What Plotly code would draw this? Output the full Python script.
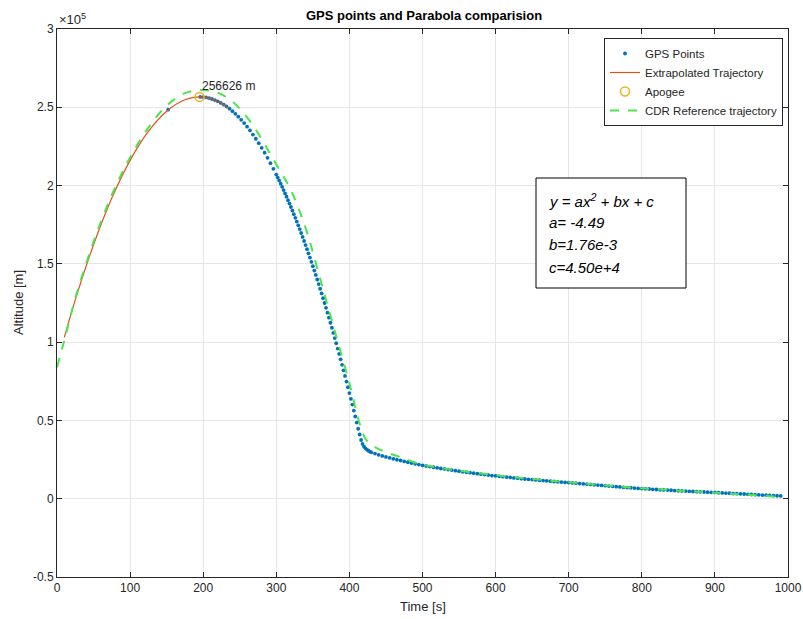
import plotly.graph_objects as go

# ---------------- data ----------------
gps_t = [152,
         196, 200, 204, 208, 212, 216, 220, 224, 228, 232, 236, 240, 244, 248, 252, 256, 260,
         264, 268, 272, 276, 280, 284, 288, 292, 296, 300,
         302, 304, 306, 308, 310, 312, 314, 316, 318, 320, 322, 324, 326, 328, 330, 332, 334,
         336, 338, 340, 342, 344, 346, 348, 350, 352, 354, 356, 358, 360, 362, 364, 366, 368,
         370, 372, 374, 376, 378, 380, 382, 384, 386, 388, 390, 392, 394, 396, 398, 400, 402,
         404, 406, 408, 410, 412, 414, 416, 418, 420, 422, 424, 426, 428,
         430, 435, 440, 445, 450, 455, 460, 465, 470, 475, 480, 485, 490, 495, 500, 505, 510,
         515, 520, 525, 530, 535, 540, 545, 550, 555, 560, 565, 570, 575, 580, 585, 590, 595,
         600, 605, 610, 615, 620, 625, 630, 635, 640, 645, 650, 655, 660, 665, 670, 675, 680,
         685, 690, 695, 700, 705, 710, 715, 720, 725, 730, 735, 740, 745, 750, 755, 760, 765,
         770, 775, 780, 785, 790, 795, 800, 805, 810, 815, 820, 825, 830, 835, 840, 845, 850,
         855, 860, 865, 870, 875, 880, 885, 890, 895, 900, 905, 910, 915, 920, 925, 930, 935,
         940, 945, 950, 955, 960, 965, 970, 975, 980, 985, 990]
gps_alt = [248500,
           256600, 256500, 256300, 255900, 255300, 254600, 253800, 252800, 251700, 250500,
           249100, 247500, 245800, 244000, 242000, 239900, 237600, 235200, 232600, 229900,
           227100, 224100, 221000, 217700, 214300, 210700, 207000,
           205100, 203200, 201200, 199200, 197100, 195000, 192900, 190700, 188500, 186300,
           184000, 181700, 179400, 177000, 174600, 172200, 169700, 167200, 164600, 162000,
           159400, 156700, 154000, 151300, 148500, 145700, 142900, 140000, 137100, 134100,
           131100, 128100, 125000, 121900, 118800, 115600, 112400, 109200, 105900, 102600,
           99300, 95900, 92500, 89000, 85500, 82000, 78400, 74800, 71200, 67500, 63800,
           60100, 56300, 52500, 48600, 44700, 41000, 37500, 35000, 33300, 32200, 31400,
           30700, 30100,
           29600, 28800, 28000, 27300, 26700, 26100, 25500, 24900, 24400, 23800, 23300,
           22800, 22300, 21800, 21300, 20900, 20500, 20100, 19700, 19300, 19000, 18600,
           18300, 17900, 17600, 17200, 16900, 16600, 16300, 16000, 15700, 15400, 15100,
           14800, 14600, 14300, 14100, 13800, 13600, 13300, 13100, 12800, 12600, 12400,
           12200, 12000, 11800, 11600, 11400, 11200, 11000, 10800, 10600, 10400, 10300,
           10100, 9900, 9700, 9500, 9300, 9100, 8900, 8700, 8500, 8300, 8100, 7900, 7700,
           7500, 7300, 7100, 7000, 6800, 6600, 6500, 6300, 6200, 6000, 5900, 5700, 5600,
           5500, 5400, 5200, 5100, 5000, 4900, 4700, 4600, 4500, 4400, 4300, 4200, 4100,
           4000, 3800, 3700, 3600, 3500, 3300, 3200, 3100, 3000, 2800, 2700, 2600, 2500,
           2300, 2200, 2100, 2000, 1900, 1800]

fit_t = [10, 25, 50, 75, 100, 125, 150, 175, 195, 215, 235]
fit_alt = [103000, 127000, 162200, 192000, 216100, 234600, 247500, 254800, 256626, 254800, 249400]

apogee_t = [195]
apogee_alt = [256626]

cdr_t = [0, 10, 25, 50, 75, 100, 125, 150, 175, 195, 215, 235, 255, 275, 291, 300, 320,
         340, 360, 380, 400, 414, 423, 435, 450, 470, 500, 600, 700, 800, 900, 990]
cdr_alt = [84000, 101000, 128000, 164000, 194000, 218000, 237000, 251000, 259000, 261000,
           260000, 255500, 246500, 233500, 220700, 213500, 197000, 173000, 140500, 107000,
           73800, 48000, 37600, 33000, 29800, 26500, 21800, 15000, 10500, 6700, 3800, 1200]

fit_lines = ["<i>y = ax<sup>2</sup> + bx + c</i>", "<i>a= -4.49</i>",
             "<i>b=1.76e-3</i>", "<i>c=4.50e+4</i>"]

y_ticks = [-50000, 0, 50000, 100000, 150000, 200000, 250000, 300000]
y_labels = ["-0.5", "0", "0.5", "1", "1.5", "2", "2.5", "3"]
x_ticks = [0, 100, 200, 300, 400, 500, 600, 700, 800, 900, 1000]

FONT = "Arial, Liberation Sans, sans-serif"
AX = "#262626"

W, H = 803, 619
ML, MT = 57, 29
PW = 788 - 57
MR = W - ML - PW
PH = 577 - 29
MB = H - MT - PH


def px(xs):
    """screen x pixel -> paper fraction"""
    return (xs - ML) / PW


def py(ys):
    """screen y pixel -> paper fraction"""
    return (H - MB - ys) / PH


fig = go.Figure()
fig.add_trace(go.Scatter(x=gps_t, y=gps_alt, mode="markers", name="GPS Points",
                         marker=dict(color="#0072BD", size=3.8, line=dict(width=0))))
fig.add_trace(go.Scatter(x=fit_t, y=fit_alt, mode="lines", name="Extrapolated Trajectory",
                         line=dict(color="#D95319", width=1.2, shape="spline")))
fig.add_trace(go.Scatter(x=apogee_t, y=apogee_alt, mode="markers", name="Apogee",
                         marker=dict(symbol="circle-open", color="#EDB120", size=9,
                                     line=dict(width=1.5, color="#EDB120"))))
fig.add_trace(go.Scatter(x=cdr_t, y=cdr_alt, mode="lines", name="CDR Reference trajectory",
                         line=dict(color="#4FE34F", width=2, dash="dash", shape="spline")))

fig.add_annotation(x=apogee_t[0], y=apogee_alt[0], xref="x", yref="y",
                   text=f"{apogee_alt[0]} m", showarrow=False, xanchor="left", yanchor="bottom",
                   xshift=0, yshift=2, font=dict(family=FONT, size=12, color=AX))

# equation text box
fig.add_shape(type="rect", xref="paper", yref="paper",
              x0=px(536), x1=px(686), y0=py(288), y1=py(178),
              line=dict(color="#000000", width=1), fillcolor="white", layer="above")
for i, line in enumerate(fit_lines):
    fig.add_annotation(xref="paper", yref="paper", x=px(547), y=py(200 + 22.5 * i),
                       xanchor="left", yanchor="middle", text=line, showarrow=False,
                       font=dict(family=FONT, size=15, color="#000000"))

fig.add_annotation(xref="paper", yref="paper", x=px(57), y=py(19), xanchor="left",
                   yanchor="middle", text="×10<sup>5</sup>", showarrow=False,
                   font=dict(family=FONT, size=13, color=AX))

# axis titles
fig.add_annotation(xref="paper", yref="paper", x=px(423), y=py(606), xanchor="center",
                   yanchor="middle", text="Time [s]", showarrow=False,
                   font=dict(family=FONT, size=13, color=AX))
fig.add_annotation(xref="paper", yref="paper", x=px(18), y=py(303), xanchor="center",
                   yanchor="middle", text="Altitude [m]", showarrow=False, textangle=-90,
                   font=dict(family=FONT, size=13, color=AX))

fig.update_layout(
    width=W, height=H,
    margin=dict(l=ML, r=MR, t=MT, b=MB),
    paper_bgcolor="white", plot_bgcolor="white",
    font=dict(family=FONT, size=12, color=AX),
    title=dict(text="<b>GPS points and Parabola comparision</b>", x=px(424), xref="paper",
               xanchor="center", y=1 - 15 / H, yanchor="middle",
               font=dict(family=FONT, size=13, color="#000000")),
    legend=dict(x=px(783), y=py(38), xanchor="right", yanchor="top", bgcolor="white",
                bordercolor=AX, borderwidth=1, font=dict(family=FONT, size=11.5, color=AX),
                tracegroupgap=0, itemwidth=30),
    showlegend=True,
)
fig.update_xaxes(range=[0, 1000], tickvals=x_ticks, showgrid=True, gridcolor="#E6E6E6",
                 zeroline=False, showline=True, linecolor=AX, linewidth=1, mirror="ticks",
                 ticks="inside", ticklen=5, tickcolor=AX, automargin=False,
                 ticklabeloverflow="allow", tickfont=dict(size=12, color=AX))
fig.update_yaxes(range=[-50000, 300000], tickvals=y_ticks, ticktext=y_labels, showgrid=True,
                 gridcolor="#E6E6E6", zeroline=False, showline=True, linecolor=AX, linewidth=1,
                 mirror="ticks", ticks="inside", ticklen=5, tickcolor=AX, automargin=False,
                 ticklabeloverflow="allow", tickfont=dict(size=12, color=AX))

fig.write_html("out.html", config={"displayModeBar": False},
               post_script="document.body.style.margin='0';document.body.style.overflow='hidden';")
